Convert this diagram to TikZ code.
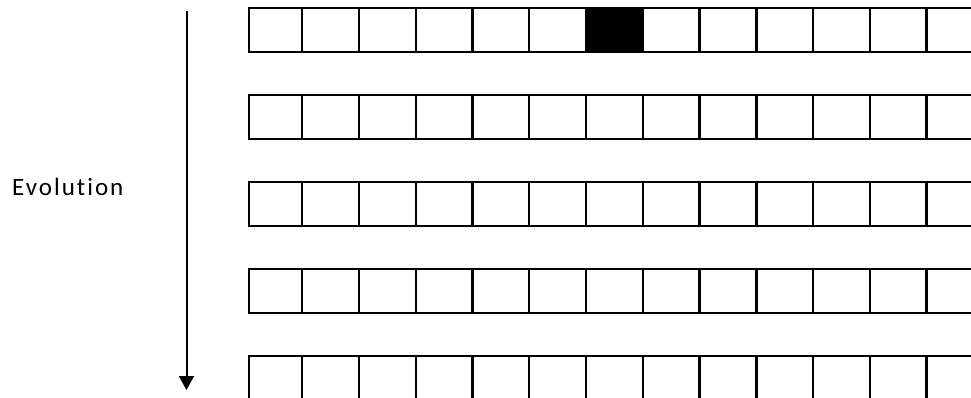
\documentclass[tikz,border=0pt]{standalone}
\usepackage{fontspec}
\setmainfont{Carlito}
\newfontfamily\evofont[LetterSpace=8,Ligatures={NoCommon}]{Carlito}
\usetikzlibrary{arrows.meta}
\begin{document}
\begin{tikzpicture}[x=1pt,y=-1pt,
  cell/.style={draw=black,line width=2.4pt,inner sep=0pt,minimum height=44pt,anchor=north west},
  filledcell/.style={cell,fill=black},
  evoarrow/.style={line width=2pt,-{Triangle[length=14pt,width=15pt]}},
  evolabel/.style={font=\fontsize{25}{30}\selectfont\evofont,anchor=base west,inner sep=0pt}]
\useasboundingbox (0,0) rectangle (971,397);
\clip (0,0) rectangle (971,397);
% text
\node[evolabel] (evo) at (12,195.5) {Evolution};
% arrow
\coordinate (atop) at (186.5,11);
\coordinate (abot) at (186.5,390);
\draw[evoarrow] (atop) -- (abot);
% grid
\foreach \r in {1,...,5}{
  \pgfmathsetmacro{\ytop}{7+87*(\r-1)}
  \node[cell,minimum width=53pt] (r\r c1) at (248,\ytop) {};
  \foreach \c in {2,...,13}{
    \pgfmathsetmacro{\xl}{301+56.77*(\c-2)}
    \ifnum\r=1 \ifnum\c=7
      \node[filledcell,minimum width=56.77pt] (r\r c\c) at (\xl,\ytop) {};
    \else
      \node[cell,minimum width=56.77pt] (r\r c\c) at (\xl,\ytop) {};
    \fi\else
      \node[cell,minimum width=56.77pt] (r\r c\c) at (\xl,\ytop) {};
    \fi
  }
}
\end{tikzpicture}
\end{document}
